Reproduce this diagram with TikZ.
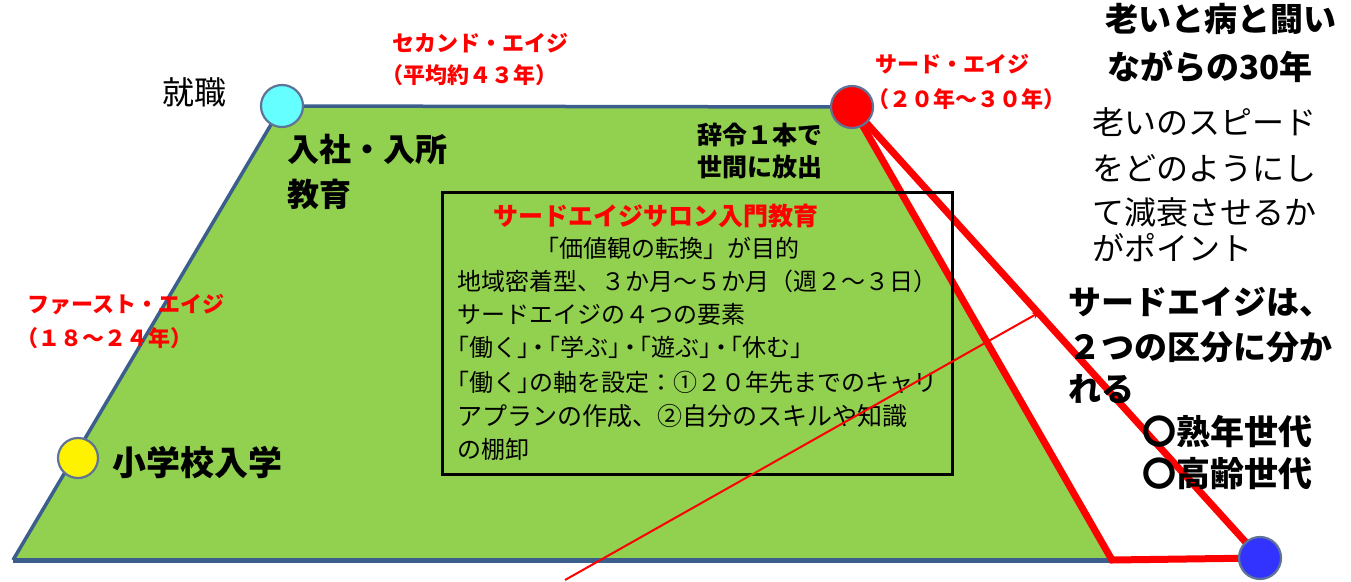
\documentclass[tikz,border=0pt]{standalone}
\usepackage{fontspec}
\setmainfont{Noto Sans CJK JP}
\usetikzlibrary{arrows.meta}
\definecolor{edgeblue}{RGB}{59,94,140}
\definecolor{lgreen}{RGB}{146,208,80}
\definecolor{cyanc}{RGB}{102,255,255}
\definecolor{bluec}{RGB}{51,51,255}
\definecolor{ringc}{RGB}{95,115,150}
\newcommand\fsz[1]{\fontsize{#1}{#1}\selectfont}
\newcommand\LB{\kern-.5em「}
\newcommand\RB{」\kern-.5em}
\newcommand\MD{\kern-.1em・\kern-.1em}
\begin{document}
\begin{tikzpicture}[x=1pt,y=-1pt,
  dot/.style={circle,minimum size=42,inner sep=0,draw=ringc,line width=2.2},
  lbl/.style={inner sep=0,anchor=west,text=black},
  redlbl/.style={lbl,text=red,font=\bfseries\fsz{22}},
  boxtxt/.style={lbl,font=\fsz{24}},
  bigtxt/.style={lbl,font=\bfseries\fsz{33}},
  thintxt/.style={lbl,font=\fsz{32}},
  thickred/.style={red,line width=7}]
\useasboundingbox (0,0) rectangle (1351,581);
% key points
\coordinate (cShu) at (282,106);
\coordinate (cThird) at (852,107);
\coordinate (cSho) at (78,458);
\coordinate (cEnd) at (1260,558);
\coordinate (bl) at (13,560);
\coordinate (br) at (1112,560);
% green trapezoid
\fill[lgreen] (bl) -- (cShu) -- (cThird) -- (br) -- cycle;
\draw[edgeblue,line width=3.5] (bl) -- (cShu) -- (cThird);
\draw[edgeblue,line width=5] (br) -- (bl);
\draw[thickred] (cThird) -- (br) -- (cEnd);
\draw[thickred] (cThird) -- (cEnd);
% circles
\node[dot,fill=cyanc] (shu) at (cShu) {};
\node[dot,fill=red] (third) at (cThird) {};
\node[dot,fill=yellow,minimum size=40] (sho) at (cSho) {};
\node[dot,fill=bluec] (end) at (cEnd) {};
% box
\node[draw,line width=3,minimum width=510,minimum height=282,inner sep=0] (box) at (697,333) {};
% labels
\node[thintxt] (tShu) at (162,92) {就職};
\node[lbl,font=\bfseries\fsz{32}] (tNyu1) at (287,149) {入社・入所};
\node[lbl,font=\bfseries\fsz{32}] (tNyu2) at (287,194) {教育};
\node[redlbl] (tSec1) at (392,43) {セカンド・エイジ};
\node[redlbl] (tSec2) at (381,75) {（平均約４３年）};
\node[redlbl] (tThi1) at (875,64) {サード・エイジ};
\node[redlbl] (tThi2) at (867,99) {（２０年～３０年）};
\node[redlbl] (tFir1) at (27,305) {ファースト・エイジ};
\node[redlbl] (tFir2) at (16,338) {（１８～２４年）};
\node[lbl,font=\bfseries\fsz{34}] (tSho) at (112,463) {小学校入学};
\node[lbl,font=\bfseries\fsz{25}] (tJi1) at (697,135) {辞令１本で};
\node[lbl,font=\bfseries\fsz{25}] (tJi2) at (697,167) {世間に放出};
% box text
\node[lbl,text=red,font=\bfseries\fsz{25}] (b1) at (493,216) {サードエイジサロン入門教育};
\node[boxtxt] (b2) at (535,248) {「価値観の転換」が目的};
\node[boxtxt] (b3) at (457,281) {地域密着型、３か月～５か月（週２～３日）};
\node[boxtxt] (b4) at (457,314) {サードエイジの４つの要素};
\node[boxtxt] (b5) at (457,347) {\LB 働く\RB\MD\LB 学ぶ\RB\MD\LB 遊ぶ\RB\MD\LB 休む」};
\node[boxtxt] (b6) at (457,382) {\LB 働く\RB の軸を設定：①２０年先までのキャリ};
\node[boxtxt,font=\fsz{25}] (b7) at (457,416) {アプランの作成、②自分のスキルや知識};
\node[boxtxt] (b8) at (457,449) {の棚卸};
% right texts
\node[bigtxt] (r1) at (1105,19) {老いと病と闘い};
\node[bigtxt] (r2) at (1107,67) {ながらの30年};
\node[thintxt] (r3) at (1092,122) {老いのスピード};
\node[thintxt] (r4) at (1092,168) {をどのようにし};
\node[thintxt] (r5) at (1092,212) {て減衰させるか};
\node[thintxt] (r6) at (1092,248) {がポイント};
\node[bigtxt] (s1) at (1068,302) {サードエイジは、};
\node[bigtxt] (s2) at (1068,347) {２つの区分に分か};
\node[bigtxt] (s3) at (1068,389) {れる};
\node[bigtxt,font=\bfseries\fsz{34}] (s4) at (1142,432) {〇熟年世代};
\node[bigtxt,font=\bfseries\fsz{34}] (s5) at (1142,474) {〇高齢世代};
% thin red pointer
\coordinate (pA) at (565,580);
\coordinate (pB) at (1040,312);
\draw[red,line width=2,-{Stealth[length=8,width=7]}] (pA) -- (pB);
\end{tikzpicture}
\end{document}
